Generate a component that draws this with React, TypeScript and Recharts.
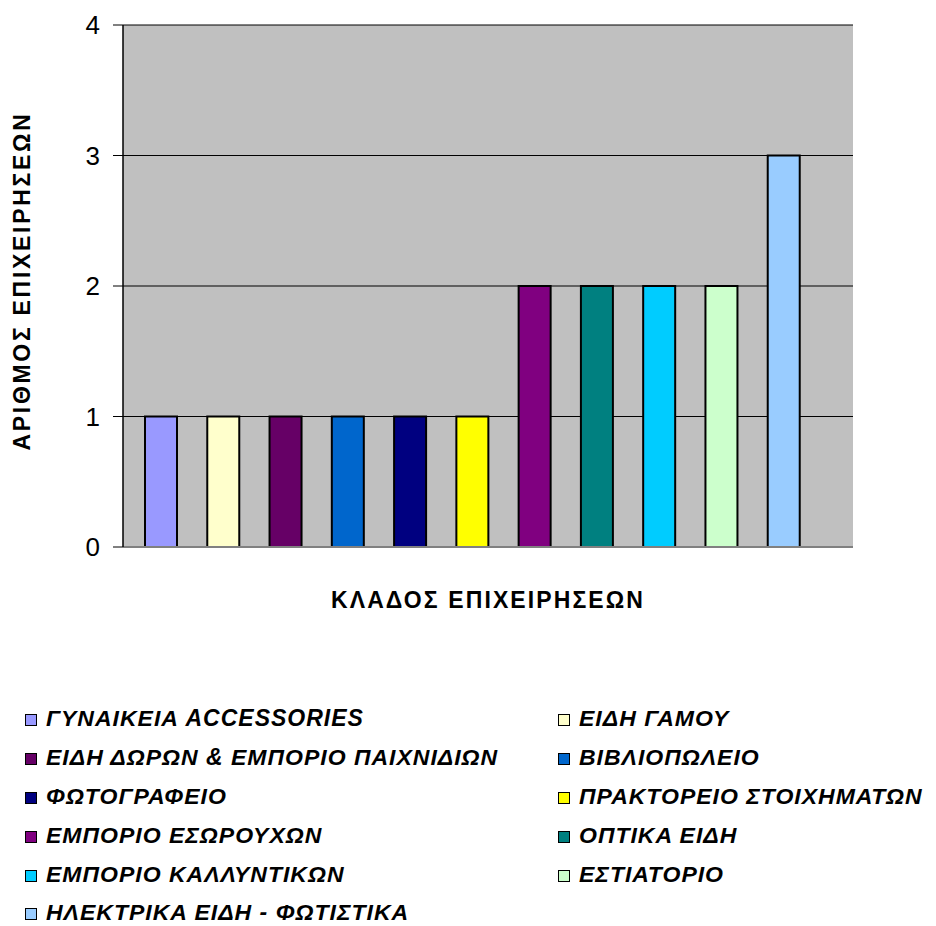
import { Bar, BarChart, CartesianGrid, Cell, XAxis, YAxis } from "recharts";

const CATEGORIES = [
  "ΓΥΝΑΙΚΕΙΑ ACCESSORIES",
  "ΕΙΔΗ ΓΑΜΟΥ",
  "ΕΙΔΗ ΔΩΡΩΝ & ΕΜΠΟΡΙΟ ΠΑΙΧΝΙΔΙΩΝ",
  "ΒΙΒΛΙΟΠΩΛΕΙΟ",
  "ΦΩΤΟΓΡΑΦΕΙΟ",
  "ΠΡΑΚΤΟΡΕΙΟ ΣΤΟΙΧΗΜΑΤΩΝ",
  "ΕΜΠΟΡΙΟ ΕΣΩΡΟΥΧΩΝ",
  "ΟΠΤΙΚΑ ΕΙΔΗ",
  "ΕΜΠΟΡΙΟ ΚΑΛΛΥΝΤΙΚΩΝ",
  "ΕΣΤΙΑΤΟΡΙΟ",
  "ΗΛΕΚΤΡΙΚΑ ΕΙΔΗ - ΦΩΤΙΣΤΙΚΑ",
];
const COUNTS = [1, 1, 1, 1, 1, 1, 2, 2, 2, 2, 3];
const COLORS = [
  "#9999FF",
  "#FFFFCC",
  "#660066",
  "#0066CC",
  "#000080",
  "#FFFF00",
  "#800080",
  "#008080",
  "#00CCFF",
  "#CCFFCC",
  "#99CCFF",
];
const Y_TICKS = [0, 1, 2, 3, 4];
const Y_TITLE = "ΑΡΙΘΜΟΣ ΕΠΙΧΕΙΡΗΣΕΩΝ";
const X_TITLE = "ΚΛΑΔΟΣ ΕΠΙΧΕΙΡΗΣΕΩΝ";

const FONT = "'Liberation Sans', Arial, sans-serif";

const data = CATEGORIES.map((name, i) => ({ name, count: COUNTS[i] }));

// axis titles drawn by hand so the rotation/centre can be set exactly
function YTitle({ viewBox }: { viewBox?: { x: number; y: number; height: number } }) {
  if (!viewBox) return null;
  const cx = viewBox.x + 22;
  const cy = viewBox.y + viewBox.height / 2 - 5;
  return (
    <text
      x={cx}
      y={cy}
      transform={`rotate(-90 ${cx} ${cy})`}
      textAnchor="middle"
      dominantBaseline="central"
      fontFamily={FONT}
      fontWeight="bold"
      fontSize={23}
      fill="#000"
      style={{ letterSpacing: 2.7 }}
    >
      {Y_TITLE}
    </text>
  );
}

function XTitle({ viewBox }: { viewBox?: { x: number; y: number; width: number } }) {
  if (!viewBox) return null;
  return (
    <text
      x={viewBox.x + viewBox.width / 2}
      y={viewBox.y + 53}
      textAnchor="middle"
      dominantBaseline="central"
      fontFamily={FONT}
      fontWeight="bold"
      fontSize={23}
      fill="#000"
      style={{ letterSpacing: 2.1 }}
    >
      {X_TITLE}
    </text>
  );
}

function LegendBlock() {
  return (
    <div
      style={{
        position: "absolute",
        left: 25,
        top: 699,
        display: "grid",
        gridTemplateColumns: "533px auto",
        fontFamily: FONT,
        fontWeight: "bold",
        fontStyle: "italic",
        fontSize: 23,
        letterSpacing: 1,
        lineHeight: "26px",
      }}
    >
      {CATEGORIES.map((c, i) => (
        <div key={c} style={{ display: "flex", alignItems: "center", height: 38.8 }}>
          <span
            style={{
              display: "inline-block",
              width: 10,
              height: 10,
              border: "1px solid #000",
              background: COLORS[i],
              marginRight: 9,
              marginTop: 4,
              flex: "none",
            }}
          />
          <span style={{ whiteSpace: "nowrap" }}>{c}</span>
        </div>
      ))}
    </div>
  );
}

export default function App() {
  return (
    <div
      style={{
        position: "absolute",
        left: 0,
        top: 0,
        width: 936,
        height: 926,
        overflow: "hidden",
        background: "#fff",
      }}
    >
      <BarChart
        width={936}
        height={650}
        data={data}
        margin={{ top: 25, right: 83, bottom: 0, left: 0 }}
      >
        <CartesianGrid
          fill="#C0C0C0"
          stroke="#000"
          strokeWidth={1}
          vertical={false}
          horizontalValues={Y_TICKS}
        />
        <XAxis
          dataKey="name"
          type="category"
          tick={false}
          tickLine={false}
          height={103}
          padding={{ left: 7, right: 38 }}
          axisLine={{ stroke: "#808080", strokeWidth: 2 }}
          label={<XTitle />}
        />
        <XAxis
          xAxisId="top"
          orientation="top"
          dataKey="name"
          tick={false}
          tickLine={false}
          height={0}
          axisLine={{ stroke: "#808080", strokeWidth: 2 }}
        />
        <YAxis
          domain={[0, 4]}
          ticks={Y_TICKS}
          interval={0}
          width={123}
          tickSize={10}
          tickMargin={13}
          axisLine={{ stroke: "#000", strokeWidth: 1.5 }}
          tickLine={{ stroke: "#000" }}
          tick={{ fill: "#000", fontSize: 26, fontFamily: FONT }}
          label={<YTitle />}
        />
        <YAxis
          yAxisId="right"
          orientation="right"
          domain={[0, 4]}
          width={0}
          tick={false}
          tickLine={false}
          axisLine={{ stroke: "#808080", strokeWidth: 2 }}
        />
        <Bar dataKey="count" barSize={32} stroke="#000" strokeWidth={2} isAnimationActive={false}>
          {data.map((d, i) => (
            <Cell key={d.name} fill={COLORS[i]} />
          ))}
        </Bar>
      </BarChart>
      <LegendBlock />
    </div>
  );
}
